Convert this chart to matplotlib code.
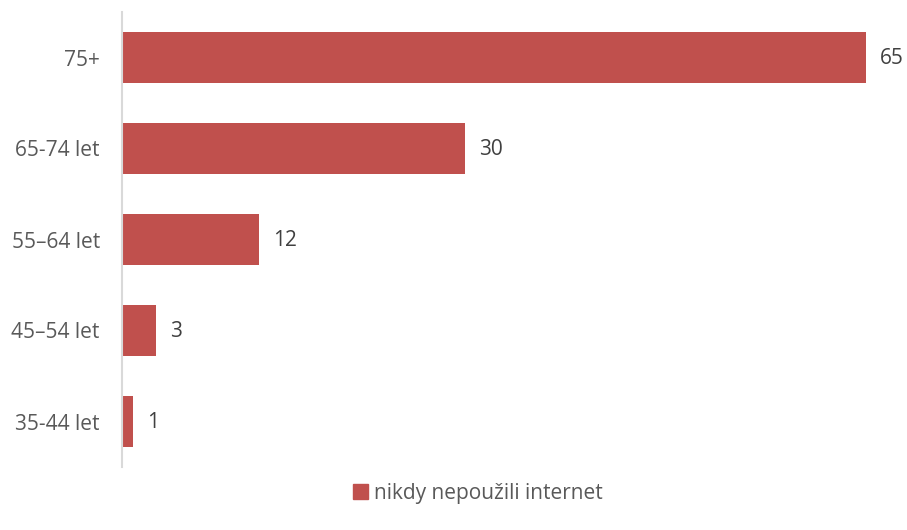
import matplotlib.pyplot as plt
from matplotlib.patches import Patch

categories = ['35-44 let', '45–54 let', '55–64 let', '65-74 let', '75+']
values = [1, 3, 12, 30, 65]
series_name = 'nikdy nepoužili internet'

bar_color = '#C0504D'
text_color = '#595959'
value_color = '#404040'

plt.rcParams['font.family'] = ['Open Sans', 'DejaVu Sans']

fig = plt.figure(figsize=(9.07, 5.30), dpi=100)
ax = fig.add_axes([122/907, 63/530, 778/907, 455/530])

pos = range(len(categories))
ax.barh(pos, values, height=0.57, color=bar_color)
for p, v in zip(pos, values):
    ax.annotate(str(v), (v, p), xytext=(10, -1), textcoords='offset points',
                va='center', ha='left', fontsize=15, color=value_color)

ax.set_xlim(0, 68)
ax.set_ylim(-0.5, len(categories) - 0.5)
ax.set_yticks(list(pos))
ax.set_yticklabels(categories, fontsize=15, color=text_color)
ax.tick_params(axis='y', length=0, pad=16)
ax.set_xticks([])
for s in ['top', 'right', 'bottom']:
    ax.spines[s].set_visible(False)
ax.spines['left'].set_color('#D9D9D9')
ax.spines['left'].set_linewidth(1.5)

fig.legend(handles=[Patch(color=bar_color, label=series_name)],
           loc='center', bbox_to_anchor=(478/907, 1 - 493/530), frameon=False,
           fontsize=15, handlelength=0.7, handleheight=0.7, handletextpad=0.3,
           labelcolor=text_color)

fig.savefig('out.png', dpi=100)
